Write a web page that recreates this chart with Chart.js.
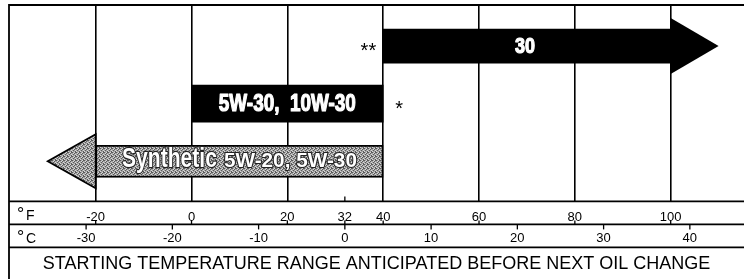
<!DOCTYPE html>
<html><head><meta charset="utf-8">
<script src="https://cdn.jsdelivr.net/npm/chart.js@4"></script>
<style>html,body{margin:0;padding:0;background:#fff;} #wrap{width:744px;height:279px;}</style>
</head><body><div id="wrap"><canvas id="c" width="744" height="279"></canvas></div>
<script>
// ---- data ----
const categories = ['30', '5W-30,  10W-30', 'Synthetic 5W-20, 5W-30'];
const rowIndex = [0, 1, 2];
const startF = [40, 0, -20];
const endF = [100, 40, 40];
const arrowTipF = [110, null, -30];
const notes = ['**', '*', ''];
const fTicks = [-20, 0, 20, 32, 40, 60, 80, 100];
const cTicks = [-30, -20, -10, 0, 10, 20, 30, 40];
const unitLabels = ['F', 'C'];
const titleText = 'STARTING TEMPERATURE RANGE ANTICIPATED BEFORE NEXT OIL CHANGE';

// ---- axis range / styles ----
const F_MIN = -38.09, F_MAX = 115.3;
const ROW_MIN = -0.713, ROW_MAX = 2.696;
const toC = f => (f - 32) * 5 / 9;
const SANS = '"Liberation Sans", Arial, Helvetica, sans-serif';
const COND = '"Liberation Sans Narrow", "Liberation Sans", Arial, sans-serif';

function makePattern() {
  const c = document.createElement('canvas'); c.width = 4; c.height = 4;
  const g = c.getContext('2d');
  g.fillStyle = '#a2a2a2'; g.fillRect(0, 0, 4, 4);
  g.fillStyle = '#5a5a5a';
  [[0,0],[2,1],[1,2],[3,3],[3,0]].forEach(([x,y]) => g.fillRect(x, y, 1, 1));
  g.fillStyle = '#d6d6d6';
  [[2,0],[0,3],[3,2],[1,1]].forEach(([x,y]) => g.fillRect(x, y, 1, 1));
  return g.createPattern(c, 'repeat');
}
const synthPattern = makePattern();

const barStyle = [
  { thickness: 34, fill: '#000', border: 0 },
  { thickness: 37, fill: '#000', border: 0 },
  { thickness: 32, fill: synthPattern, border: 1.8 }
];
const headHalf = [28, 0, 27];
const noteStyle = [ { side: 'left', gap: 7 }, { side: 'right', gap: 12 }, null ];

function fitText(ctx, text, cx, baseline, px, width, fill, stroke, lw) {
  ctx.save();
  ctx.font = 'bold ' + px + 'px ' + COND;
  const w = ctx.measureText(text).width;
  const sx = width / w;
  ctx.translate(cx, baseline);
  ctx.scale(sx, 1);
  ctx.textAlign = 'center';
  ctx.textBaseline = 'alphabetic';
  ctx.lineJoin = 'round';
  if (stroke) { ctx.lineWidth = lw; ctx.strokeStyle = stroke; ctx.strokeText(text, 0, 0); }
  ctx.fillStyle = fill;
  ctx.fillText(text, 0, 0);
  if (!stroke && lw) { ctx.lineWidth = lw; ctx.strokeStyle = fill; ctx.strokeText(text, 0, 0); }
  ctx.restore();
}

const decor = {
  id: 'decor',
  afterDatasetsDraw(chart) {
    const ctx = chart.ctx;
    const xs = chart.scales.x;
    // arrow heads
    categories.forEach((name, i) => {
      if (arrowTipF[i] == null) return;
      const el = chart.getDatasetMeta(i).data[0];
      const cy = el.y;
      const baseX = arrowTipF[i] > endF[i] ? xs.getPixelForValue(endF[i]) : xs.getPixelForValue(startF[i]);
      const tipX = xs.getPixelForValue(arrowTipF[i]);
      ctx.save();
      ctx.beginPath();
      ctx.moveTo(baseX, cy - headHalf[i]);
      ctx.lineTo(tipX, cy);
      ctx.lineTo(baseX, cy + headHalf[i]);
      ctx.closePath();
      ctx.fillStyle = barStyle[i].fill;
      ctx.fill();
      if (barStyle[i].border) { ctx.lineWidth = barStyle[i].border; ctx.strokeStyle = '#000'; ctx.lineJoin = 'miter'; ctx.stroke(); }
      ctx.restore();
    });
    // bar labels
    const y0 = chart.getDatasetMeta(0).data[0].y;
    fitText(ctx, categories[0], xs.getPixelForValue(69.6), y0 + 7, 22, 20, '#fff', null, 1.2);
    const y1 = chart.getDatasetMeta(1).data[0].y;
    fitText(ctx, categories[1], xs.getPixelForValue((startF[1] + endF[1]) / 2), y1 + 7.5, 24, 137, '#fff', null, 1.2);
    const y2 = chart.getDatasetMeta(2).data[0].y;
    const sp = categories[2].indexOf(' ');
    const partA = categories[2].slice(0, sp), partB = categories[2].slice(sp + 1);
    const wA = 95, wB = 133, gap = 7;
    const mid = xs.getPixelForValue((startF[2] + endF[2]) / 2);
    const left = mid - (wA + wB + gap) / 2;
    fitText(ctx, partA, left + wA / 2, y2 + 6, 27, wA, '#fff', '#222', 2.4);
    fitText(ctx, partB, left + wA + gap + wB / 2, y2 + 6, 19.5, wB, '#fff', '#222', 2.0);
    // notes (asterisks)
    ctx.save();
    ctx.fillStyle = '#000';
    ctx.font = '20px ' + SANS;
    ctx.textBaseline = 'alphabetic';
    notes.forEach((n, i) => {
      if (!n) return;
      const el = chart.getDatasetMeta(i).data[0];
      const st = noteStyle[i];
      if (st.side === 'left') { ctx.textAlign = 'right'; ctx.fillText(n, xs.getPixelForValue(startF[i]) - st.gap, el.y + 11); }
      else { ctx.textAlign = 'left'; ctx.fillText(n, xs.getPixelForValue(endF[i]) + st.gap, el.y + 11); }
    });
    ctx.restore();
  },
  afterDraw(chart) {
    const ctx = chart.ctx;
    const xs = chart.scales.x, cs = chart.scales.x2;
    const ca = chart.chartArea;
    const W = chart.width, H = chart.height;
    ctx.save();
    ctx.strokeStyle = '#000';
    ctx.lineWidth = 1.8;
    const hline = (y) => { ctx.beginPath(); ctx.moveTo(ca.left, y); ctx.lineTo(W, y); ctx.stroke(); };
    hline(ca.top);
    hline(xs.top);
    hline(cs.top);
    hline(cs.bottom);
    ctx.beginPath(); ctx.moveTo(ca.left, ca.top - 0.9); ctx.lineTo(ca.left, H); ctx.stroke();
    // tick marks
    ctx.lineWidth = 1.3;
    fTicks.forEach(v => {
      const px = xs.getPixelForValue(v);
      ctx.beginPath(); ctx.moveTo(px, cs.top - 4); ctx.lineTo(px, cs.top); ctx.stroke();
      if (v === 32) { ctx.beginPath(); ctx.moveTo(px, xs.top - 5); ctx.lineTo(px, xs.top); ctx.stroke(); }
    });
    cTicks.forEach(v => {
      const px = cs.getPixelForValue(v);
      ctx.beginPath(); ctx.moveTo(px, cs.top); ctx.lineTo(px, cs.top + 5); ctx.stroke();
    });
    // unit labels
    ctx.fillStyle = '#000';
    ctx.textAlign = 'left';
    ctx.textBaseline = 'alphabetic';
    [xs, cs].forEach((s, i) => {
      ctx.font = '18px ' + SANS;
      ctx.fillText('\u00B0', ca.left + 8, s.top + 19);
      ctx.font = '14px ' + SANS;
      ctx.fillText(unitLabels[i], ca.left + 17, s.top + 19);
    });
    ctx.restore();
  }
};

const tickFont = { family: SANS, size: 13 };

new Chart(document.getElementById('c'), {
  type: 'bar',
  data: {
    datasets: categories.map((name, i) => ({
      label: name,
      data: [{ x: [startF[i], endF[i]], y: rowIndex[i] }],
      backgroundColor: barStyle[i].fill,
      borderColor: '#000',
      borderWidth: barStyle[i].border,
      borderSkipped: false,
      barThickness: barStyle[i].thickness,
      grouped: false,
      xAxisID: 'x',
      yAxisID: 'y'
    }))
  },
  options: {
    indexAxis: 'y',
    responsive: false,
    animation: false,
    layout: { padding: { left: 9, top: 5, right: 0, bottom: 0 } },
    plugins: {
      legend: { display: false },
      tooltip: { enabled: false },
      title: {
        display: true, position: 'bottom', text: titleText, color: '#000',
        font: { family: SANS, size: 18, weight: 'normal', lineHeight: 1.2 },
        padding: { top: 6, bottom: 4 }
      }
    },
    scales: {
      x: {
        type: 'linear', position: 'bottom', min: F_MIN, max: F_MAX, weight: 0,
        afterBuildTicks: s => { s.ticks = fTicks.map(v => ({ value: v })); },
        afterFit: s => { s.height = 23; },
        grid: {
          color: c => (c.tick && c.tick.value === 32) ? 'rgba(0,0,0,0)' : '#000',
          lineWidth: 1.6, drawTicks: false
        },
        border: { display: false },
        ticks: { font: tickFont, color: '#000', padding: 8, maxRotation: 0, autoSkip: false, callback: v => String(v) }
      },
      x2: {
        type: 'linear', position: 'bottom', min: toC(F_MIN), max: toC(F_MAX), weight: 1,
        afterBuildTicks: s => { s.ticks = cTicks.map(v => ({ value: v })); },
        afterFit: s => { s.height = 23; },
        grid: { display: false, drawTicks: false },
        border: { display: false },
        ticks: { font: tickFont, color: '#000', padding: 6, maxRotation: 0, autoSkip: false, callback: v => String(v) }
      },
      y: {
        type: 'linear', reverse: true, min: ROW_MIN, max: ROW_MAX, offset: false, bounds: 'data',
        grid: { offset: false },
        afterDataLimits: s => { s.min = ROW_MIN; s.max = ROW_MAX; },
        afterBuildTicks: s => { s.ticks = [{ value: ROW_MIN }, { value: ROW_MAX }]; },
        display: false
      }
    }
  },
  plugins: [decor]
});
</script>
</body></html>
